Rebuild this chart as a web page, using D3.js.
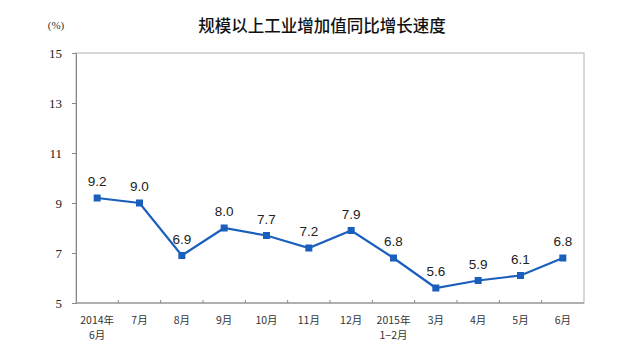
<!DOCTYPE html>
<html><head><meta charset="utf-8">
<script src="https://cdn.jsdelivr.net/npm/d3@7"></script>
<style>body{margin:0;background:#fff}</style>
</head><body>
<svg id="c" width="640" height="354"></svg>
<script>
const categories = [["2014年","6月"],["7月"],["8月"],["9月"],["10月"],["11月"],["12月"],["2015年","1−2月"],["3月"],["4月"],["5月"],["6月"]];
const values = [9.2, 9.0, 6.9, 8.0, 7.7, 7.2, 7.9, 6.8, 5.6, 5.9, 6.1, 6.8];
const yTicks = [5, 7, 9, 11, 13, 15];
const title = "规模以上工业增加值同比增长速度";
const unit = "(%)";

const svg = d3.select("#c");
const m = {l:76, r:584, t:53, b:303};
const x = d3.scaleBand().domain(d3.range(categories.length)).range([m.l, m.r]);
const y = d3.scaleLinear().domain([5, 15]).range([m.b, m.t]);

// frame
svg.append("rect").attr("x", m.l).attr("y", m.t).attr("width", m.r - m.l).attr("height", m.b - m.t)
  .attr("fill", "none").attr("stroke", "#b0b0b0").attr("stroke-width", 1);

// y axis
const ya = svg.append("g").attr("transform", `translate(${m.l},0)`)
  .call(d3.axisLeft(y).tickValues(yTicks).tickSize(4).tickPadding(10).tickFormat(d3.format("d")));
ya.select(".domain").attr("stroke", "#888");
ya.selectAll(".tick line").attr("stroke", "#888");
ya.selectAll("text").attr("font-family", "Liberation Serif, serif").attr("font-size", 13).attr("fill", "#222");

// x axis ticks at band boundaries
const xa = svg.append("g");
xa.append("line").attr("x1", m.l).attr("x2", m.r).attr("y1", m.b).attr("y2", m.b).attr("stroke", "#888");
xa.selectAll("line.t").data(d3.range(1, categories.length)).join("line").attr("class","t")
  .attr("x1", i => x(i)).attr("x2", i => x(i)).attr("y1", m.b).attr("y2", m.b - 3).attr("stroke", "#888");
const xl = xa.selectAll("text").data(categories).join("text")
  .attr("x", (d, i) => x(i) + x.bandwidth() / 2).attr("y", 324)
  .attr("text-anchor", "middle").attr("font-family", "Noto Sans CJK SC, sans-serif").attr("font-size", 10.5).attr("fill", "#333");
xl.each(function(d) {
  const t = d3.select(this);
  d.forEach((s, k) => t.append("tspan").attr("x", t.attr("x")).attr("dy", k ? 15 : 0).text(s));
});

// line
const line = d3.line().x((d, i) => x(i) + x.bandwidth() / 2).y(d => y(d));
svg.append("path").datum(values).attr("d", line).attr("fill", "none").attr("stroke", "#1b5fbd").attr("stroke-width", 2.2);
svg.selectAll("rect.pt").data(values).join("rect").attr("class", "pt")
  .attr("x", (d, i) => x(i) + x.bandwidth() / 2 - 3.5).attr("y", d => y(d) - 3.5)
  .attr("width", 7).attr("height", 7).attr("fill", "#1b5fbd");
svg.selectAll("text.lbl").data(values).join("text").attr("class", "lbl")
  .attr("x", (d, i) => x(i) + x.bandwidth() / 2).attr("y", d => y(d) - 12)
  .attr("text-anchor", "middle").attr("font-family", "Liberation Sans, Arial, sans-serif").attr("font-size", 13.5).attr("fill", "#222")
  .text(d => d3.format(".1f")(d));

// title
svg.append("text").attr("x", 322).attr("y", 32).attr("text-anchor", "middle")
  .attr("font-family", "Noto Sans CJK SC, sans-serif").attr("font-size", 16.5).attr("font-weight", 500).attr("fill", "#111").text(title);
svg.append("text").attr("x", 56).attr("y", 29).attr("text-anchor", "middle")
  .attr("font-family", "Liberation Serif, serif").attr("font-size", 11).attr("fill", "#333").text(unit);
</script>
</body></html>
